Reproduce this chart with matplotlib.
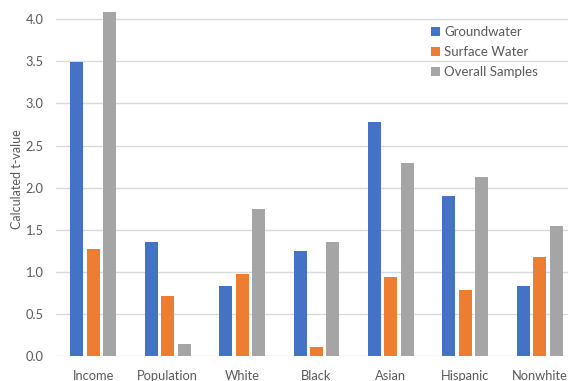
import matplotlib
matplotlib.use("Agg")
import matplotlib.pyplot as plt
import numpy as np

categories = ["Income", "Population", "White", "Black", "Asian", "Hispanic", "Nonwhite"]
groundwater = [3.49, 1.36, 0.83, 1.25, 2.78, 1.90, 0.83]
surface_water = [1.27, 0.71, 0.98, 0.11, 0.94, 0.78, 1.18]
overall = [4.09, 0.14, 1.75, 1.35, 2.29, 2.13, 1.54]
series_names = ["Groundwater", "Surface Water", "Overall Samples"]
yticks = [0.0, 0.5, 1.0, 1.5, 2.0, 2.5, 3.0, 3.5, 4.0]

plt.rcParams['font.family'] = ['Lato', 'DejaVu Sans']
txt = "#595959"

W, H = 568, 381
fig = plt.figure(figsize=(W / 100, H / 100), dpi=100)
ymax = 4.2
pxu = (356 - 19.3) / 4.0
ax = fig.add_axes([56 / W, (H - 356) / H, 521 / W, ymax * pxu / H])

x = np.arange(len(categories))
bw = 0.175
off = 0.22
colors = ["#4472C4", "#ED7D31", "#A5A5A5"]
for i, (vals, name) in enumerate(zip([groundwater, surface_water, overall], series_names)):
    ax.bar(x + (i - 1) * off, vals, width=bw, color=colors[i], label=name, zorder=3)

ax.set_xlim(-0.5, len(categories) - 0.5)
ax.set_ylim(0, ymax)
ax.set_yticks(yticks)
ax.set_yticklabels([f"{v:.1f}" for v in yticks])
ax.set_xticks(x)
ax.set_xticklabels(categories)
ax.grid(axis='y', color="#D9D9D9", linewidth=1, zorder=0)
for s in ax.spines.values():
    s.set_visible(False)
ax.tick_params(axis='both', length=0, colors=txt, labelsize=9.3)
ax.tick_params(axis='x', pad=10)
ax.tick_params(axis='y', pad=9)
ax.set_ylabel("Calculated t-value", color=txt, fontsize=9, labelpad=2)

leg = fig.legend(loc='upper left', bbox_to_anchor=(431 / W, 1 - 26 / H), frameon=False,
                 handlelength=0.7, handleheight=0.7, handletextpad=0.3,
                 labelspacing=0.6, fontsize=9.5, borderaxespad=0, borderpad=0)
for t in leg.get_texts():
    t.set_color(txt)

fig.savefig("out.png", dpi=100)
